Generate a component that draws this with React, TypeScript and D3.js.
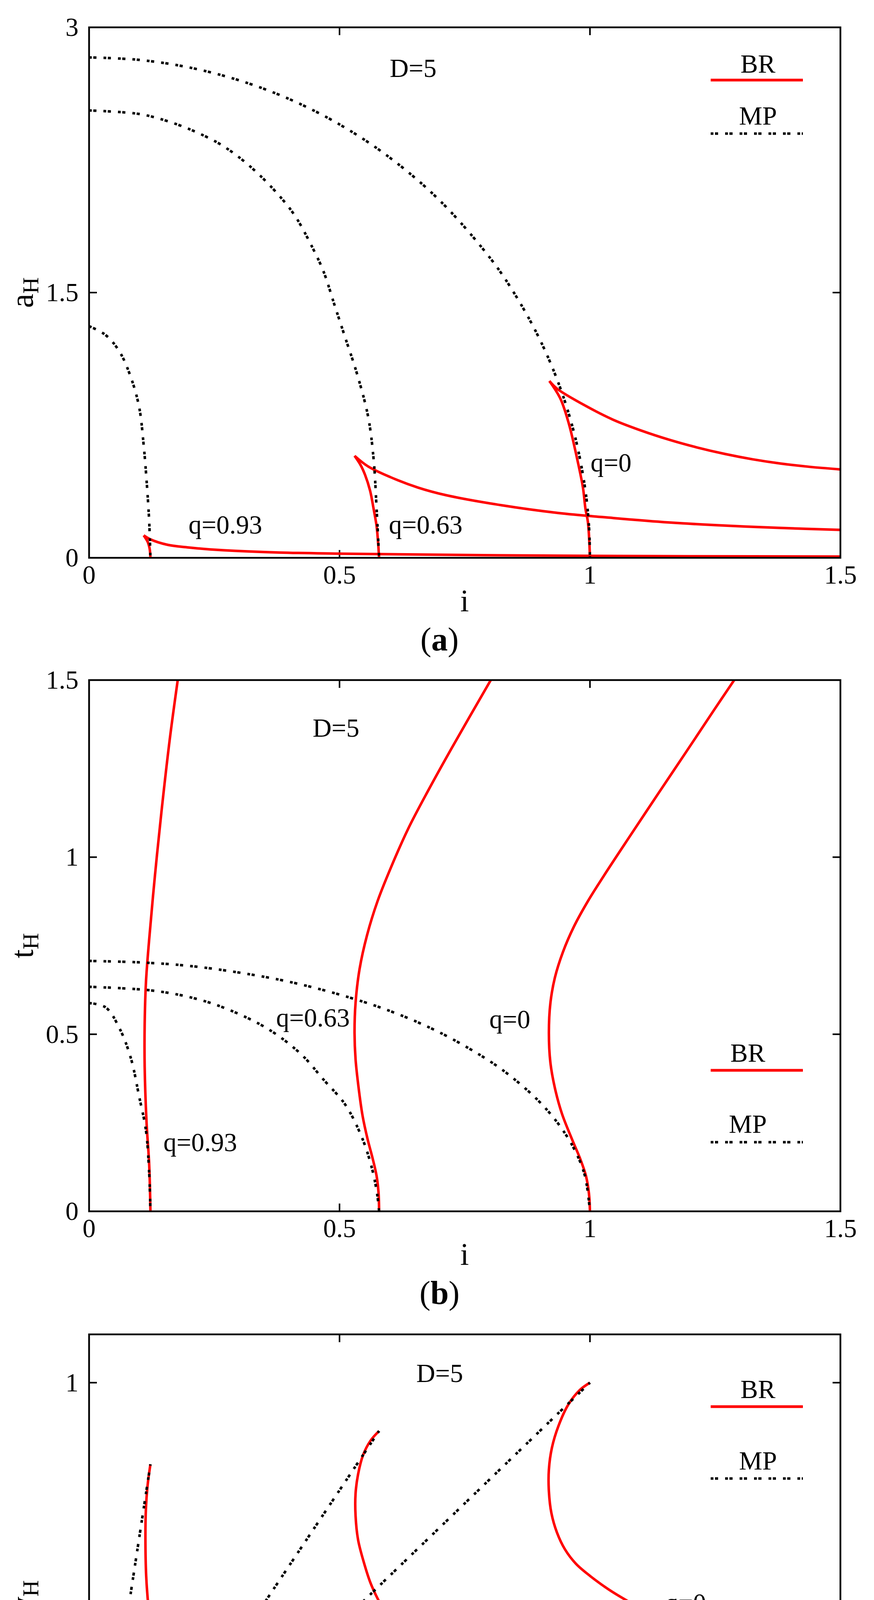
import React from 'react';
import * as d3 from 'd3';

type Pt = [number, number];

// axis ticks
const xTicks = [0, 0.5, 1, 1.5];
const aTicks = [0, 1.5, 3];
const tTicks = [0, 0.5, 1, 1.5];
const wTicks = [0, 0.5, 1];

// ---- (a) a_H vs i ----
const aBR0Low: Pt[] = [[1.0, 0], [0.996, 0.2], [0.991, 0.278], [0.986, 0.397], [0.974, 0.565], [0.958, 0.757], [0.941, 0.9], [0.919, 1.0]];
const aBR0Up: Pt[] = [[0.919, 1.0], [0.935, 0.955], [0.991, 0.86], [1.047, 0.78], [1.102, 0.72], [1.158, 0.668], [1.214, 0.624], [1.27, 0.587], [1.325, 0.557], [1.381, 0.533], [1.437, 0.515], [1.5, 0.5]];
const aBR63Low: Pt[] = [[0.579, 0], [0.577, 0.086], [0.574, 0.18], [0.568, 0.278], [0.561, 0.38], [0.551, 0.469], [0.542, 0.525], [0.53, 0.577]];
const aBR63Up: Pt[] = [[0.53, 0.577], [0.557, 0.517], [0.601, 0.457], [0.657, 0.397], [0.713, 0.354], [0.824, 0.297], [0.935, 0.254], [1.047, 0.225], [1.158, 0.2], [1.27, 0.182], [1.381, 0.169], [1.5, 0.158]];
const aBR93Low: Pt[] = [[0.1225, 0], [0.121, 0.05], [0.117, 0.09], [0.109, 0.127]];
const aBR93Up: Pt[] = [[0.109, 0.127], [0.122, 0.105], [0.156, 0.074], [0.2, 0.058], [0.267, 0.043], [0.379, 0.03], [0.49, 0.024], [0.713, 0.017], [0.935, 0.012], [1.2, 0.009], [1.5, 0.007]];
const aMP0: Pt[] = [[0, 2.83], [0.1, 2.816], [0.2, 2.773], [0.3, 2.7], [0.4, 2.594], [0.5, 2.451], [0.6, 2.264], [0.7, 2.021], [0.8, 1.698], [0.85, 1.491], [0.9, 1.234], [0.94, 0.966], [0.97, 0.688], [0.99, 0.399], [0.998, 0.18], [1.0, 0]];
const aMP63: Pt[] = [[0, 2.53], [0.1, 2.51], [0.156, 2.47], [0.212, 2.41], [0.267, 2.33], [0.323, 2.21], [0.379, 2.05], [0.412, 1.93], [0.445, 1.76], [0.468, 1.62], [0.49, 1.43], [0.512, 1.24], [0.535, 1.04], [0.557, 0.8], [0.568, 0.56], [0.574, 0.28], [0.579, 0]];
const aMP93: Pt[] = [[0, 1.31], [0.033, 1.26], [0.061, 1.165], [0.0835, 1.02], [0.1, 0.852], [0.109, 0.637], [0.1158, 0.397], [0.12, 0.206], [0.1225, 0]];

// ---- (b) t_H vs i ----
const bBR0: Pt[] = [[1.0, 0], [0.998, 0.05], [0.992, 0.1], [0.98, 0.15], [0.964, 0.204], [0.944, 0.276], [0.93, 0.348], [0.921, 0.42], [0.918, 0.504], [0.921, 0.588], [0.93, 0.66], [0.946, 0.732], [0.968, 0.804], [0.996, 0.876], [1.028, 0.948], [1.082, 1.064], [1.137, 1.181], [1.192, 1.297], [1.247, 1.414], [1.288, 1.5]];
const bBR63: Pt[] = [[0.579, 0], [0.578, 0.05], [0.574, 0.1], [0.566, 0.15], [0.556, 0.204], [0.546, 0.27], [0.538, 0.35], [0.532, 0.43], [0.53, 0.504], [0.532, 0.588], [0.54, 0.684], [0.555, 0.78], [0.576, 0.876], [0.603, 0.972], [0.637, 1.08], [0.677, 1.188], [0.724, 1.308], [0.802, 1.5]];
const bBR93: Pt[] = [[0.1225, 0], [0.12, 0.132], [0.1147, 0.252], [0.111, 0.408], [0.111, 0.528], [0.1136, 0.648], [0.12, 0.768], [0.1315, 0.948], [0.1445, 1.128], [0.161, 1.332], [0.177, 1.5]];
const bMP0: Pt[] = [[0, 0.707], [0.1, 0.703], [0.2, 0.693], [0.3, 0.674], [0.4, 0.648], [0.5, 0.612], [0.6, 0.566], [0.7, 0.505], [0.8, 0.424], [0.85, 0.372], [0.9, 0.308], [0.94, 0.241], [0.97, 0.172], [0.99, 0.1], [1.0, 0]];
const bMP63: Pt[] = [[0, 0.634], [0.122, 0.624], [0.2, 0.605], [0.267, 0.576], [0.356, 0.516], [0.423, 0.444], [0.468, 0.372], [0.512, 0.3], [0.546, 0.204], [0.565, 0.12], [0.575, 0.05], [0.579, 0]];
const bMP93: Pt[] = [[0, 0.588], [0.033, 0.576], [0.061, 0.516], [0.0835, 0.432], [0.1, 0.324], [0.1136, 0.228], [0.12, 0.108], [0.1225, 0]];

// ---- (c) w_H vs i ----
const cBR0: Pt[] = [[1.0, 1.0], [0.98, 0.985], [0.957, 0.955], [0.937, 0.91], [0.924, 0.865], [0.918, 0.82], [0.918, 0.775], [0.923, 0.73], [0.934, 0.69], [0.95, 0.655], [0.972, 0.625], [1.0, 0.6], [1.04, 0.57], [1.1, 0.533], [1.158, 0.5], [1.214, 0.47], [1.27, 0.443], [1.38, 0.397], [1.5, 0.357]];
const cBR63: Pt[] = [[0.579, 0.9], [0.562, 0.88], [0.547, 0.85], [0.537, 0.81], [0.532, 0.77], [0.532, 0.725], [0.537, 0.675], [0.548, 0.63], [0.562, 0.585], [0.58, 0.545], [0.601, 0.508], [0.628, 0.472], [0.657, 0.442], [0.713, 0.397], [0.77, 0.36], [0.824, 0.33], [0.935, 0.278], [1.047, 0.24], [1.158, 0.214], [1.27, 0.197], [1.38, 0.186], [1.5, 0.177]];
const cBR93: Pt[] = [[0.1225, 0.831], [0.117, 0.789], [0.1135, 0.74], [0.1125, 0.68], [0.114, 0.6], [0.119, 0.53], [0.126, 0.47], [0.135, 0.42], [0.148, 0.37], [0.163, 0.33], [0.18, 0.298], [0.2, 0.268], [0.223, 0.243], [0.255, 0.21], [0.29, 0.183], [0.379, 0.132], [0.49, 0.097], [0.601, 0.075], [0.713, 0.062], [0.935, 0.049], [1.158, 0.042], [1.5, 0.034]];
const cMP0: Pt[] = [[0, 0], [1.0, 1.0]];
const cMP63: Pt[] = [[0, 0], [0.579, 0.9]];
const cMP93: Pt[] = [[0, 0], [0.1225, 0.831]];

// text notes, data coordinates of the text centre
const aNotes = [
  { text: 'D=5', x: 0.647, y: 2.768 },
  { text: 'q=0', x: 1.042, y: 0.537 },
  { text: 'q=0.63', x: 0.672, y: 0.186 },
  { text: 'q=0.93', x: 0.272, y: 0.186 },
];
const bNotes = [
  { text: 'D=5', x: 0.493, y: 1.365 },
  { text: 'q=0.63', x: 0.447, y: 0.546 },
  { text: 'q=0', x: 0.84, y: 0.5415 },
  { text: 'q=0.93', x: 0.222, y: 0.194 },
];
const cNotes = [
  { text: 'D=5', x: 0.7, y: 1.019 },
  { text: 'q=0', x: 1.191, y: 0.544 },
  { text: 'q=0.63', x: 0.873, y: 0.396 },
  { text: 'q=0.93', x: 0.471, y: 0.197 },
];

const FONT = '"Liberation Serif", "Times New Roman", serif';
const RED = '#ff0000';
const LEFT = 228;
const RIGHT = 2151;
const TICK = 20;
const DOTS = '7,4,8,18';
const FS = 67;

const panels = [
  {
    id: 'a', top: 70, bottom: 1428, yDomain: [0, 3], yTicks: aTicks, yLabel: 'a',
    br: [aBR0Low, aBR0Up, aBR63Low, aBR63Up, aBR93Low, aBR93Up], mp: [aMP0, aMP63, aMP93], notes: aNotes,
    legend: { textX: 1940, br: 116, brLine: 135, mp: 249, mpLine: 272 },
  },
  {
    id: 'b', top: 1741, bottom: 3101, yDomain: [0, 1.5], yTicks: tTicks, yLabel: 't',
    br: [bBR0, bBR63, bBR93], mp: [bMP0, bMP63, bMP93], notes: bNotes,
    legend: { textX: 1914, br: 977, brLine: 999, mp: 1159, mpLine: 1183 },
  },
  {
    id: 'c', top: 3416, bottom: 4776, yDomain: [0, 1.1], yTicks: wTicks, yLabel: 'w',
    br: [cBR0, cBR63, cBR93], mp: [cMP0, cMP63, cMP93], notes: cNotes,
    legend: { textX: 1940, br: 163, brLine: 185, mp: 346, mpLine: 369 },
  },
];

function Panel({ p }: { p: typeof panels[number] }) {
  const x = d3.scaleLinear().domain([0, 1.5]).range([LEFT, RIGHT]);
  const y = d3.scaleLinear().domain(p.yDomain).range([p.bottom, p.top]);
  const line = d3.line<Pt>().x(d => x(d[0])).y(d => y(d[1])).curve(d3.curveCatmullRom.alpha(0.5));
  const midY = (p.top + p.bottom) / 2;
  const lg = p.legend;

  return (
    <g>
      <defs>
        <clipPath id={`clip-${p.id}`}>
          <rect x={LEFT} y={p.top} width={RIGHT - LEFT} height={p.bottom - p.top} />
        </clipPath>
      </defs>

      {/* ticks on all four sides, pointing inward */}
      {xTicks.map(t => (
        <g key={`x${t}`} stroke="#000" strokeWidth={4}>
          <line x1={x(t)} x2={x(t)} y1={p.bottom} y2={p.bottom - TICK} />
          <line x1={x(t)} x2={x(t)} y1={p.top} y2={p.top + TICK} />
        </g>
      ))}
      {p.yTicks.map(t => (
        <g key={`y${t}`} stroke="#000" strokeWidth={4}>
          <line x1={LEFT} x2={LEFT + TICK} y1={y(t)} y2={y(t)} />
          <line x1={RIGHT} x2={RIGHT - TICK} y1={y(t)} y2={y(t)} />
        </g>
      ))}

      <g clipPath={`url(#clip-${p.id})`} fill="none">
        {p.br.map((d, k) => (
          <path key={`br${k}`} d={line(d) || ''} stroke={RED} strokeWidth={6.5} strokeLinejoin="round" />
        ))}
        {p.mp.map((d, k) => (
          <path key={`mp${k}`} d={line(d) || ''} stroke="#000" strokeWidth={6.5} strokeDasharray={DOTS} />
        ))}
      </g>

      <rect x={LEFT} y={p.top} width={RIGHT - LEFT} height={p.bottom - p.top} fill="none" stroke="#000" strokeWidth={4.5} />

      <g fontFamily={FONT} fontSize={FS} fill="#000">
        {xTicks.map(t => (
          <text key={`xl${t}`} x={x(t)} y={p.bottom + 66} textAnchor="middle">{String(t)}</text>
        ))}
        {p.yTicks.map(t => (
          <text key={`yl${t}`} x={LEFT - 27} y={y(t)} dy="0.33em" textAnchor="end">{String(t)}</text>
        ))}
        {p.notes.map(n => (
          <text key={n.text} x={x(n.x)} y={y(n.y)} dy="0.33em" textAnchor="middle">{n.text}</text>
        ))}
        <text x={lg.textX} y={p.top + lg.br} textAnchor="middle">BR</text>
        <text x={lg.textX} y={p.top + lg.mp} textAnchor="middle">MP</text>
      </g>
      <line x1={1819} x2={2055} y1={p.top + lg.brLine} y2={p.top + lg.brLine} stroke={RED} strokeWidth={7} />
      <line x1={1819} x2={2055} y1={p.top + lg.mpLine} y2={p.top + lg.mpLine} stroke="#000" strokeWidth={6.5} strokeDasharray={DOTS} />

      {/* axis titles */}
      <text x={1189} y={p.bottom + 137} textAnchor="middle" fontFamily={FONT} fontSize={80}>i</text>
      <text transform={`translate(84,${midY}) rotate(-90)`} textAnchor="middle" fontFamily={FONT} fontSize={82}>
        {p.yLabel}
        <tspan fontSize={58} dy={14}>H</tspan>
      </text>

      {/* panel caption */}
      <text x={1125} y={p.bottom + 237} textAnchor="middle" fontFamily={FONT} fontSize={84}>
        (<tspan fontWeight="bold">{p.id}</tspan>)
      </text>
    </g>
  );
}

export default function App() {
  return (
    <svg width={2237} height={5057} style={{ position: 'absolute', left: 0, top: 0, background: '#fff' }}>
      <rect width={2237} height={5057} fill="#fff" />
      {panels.map(p => <Panel key={p.id} p={p} />)}
    </svg>
  );
}
